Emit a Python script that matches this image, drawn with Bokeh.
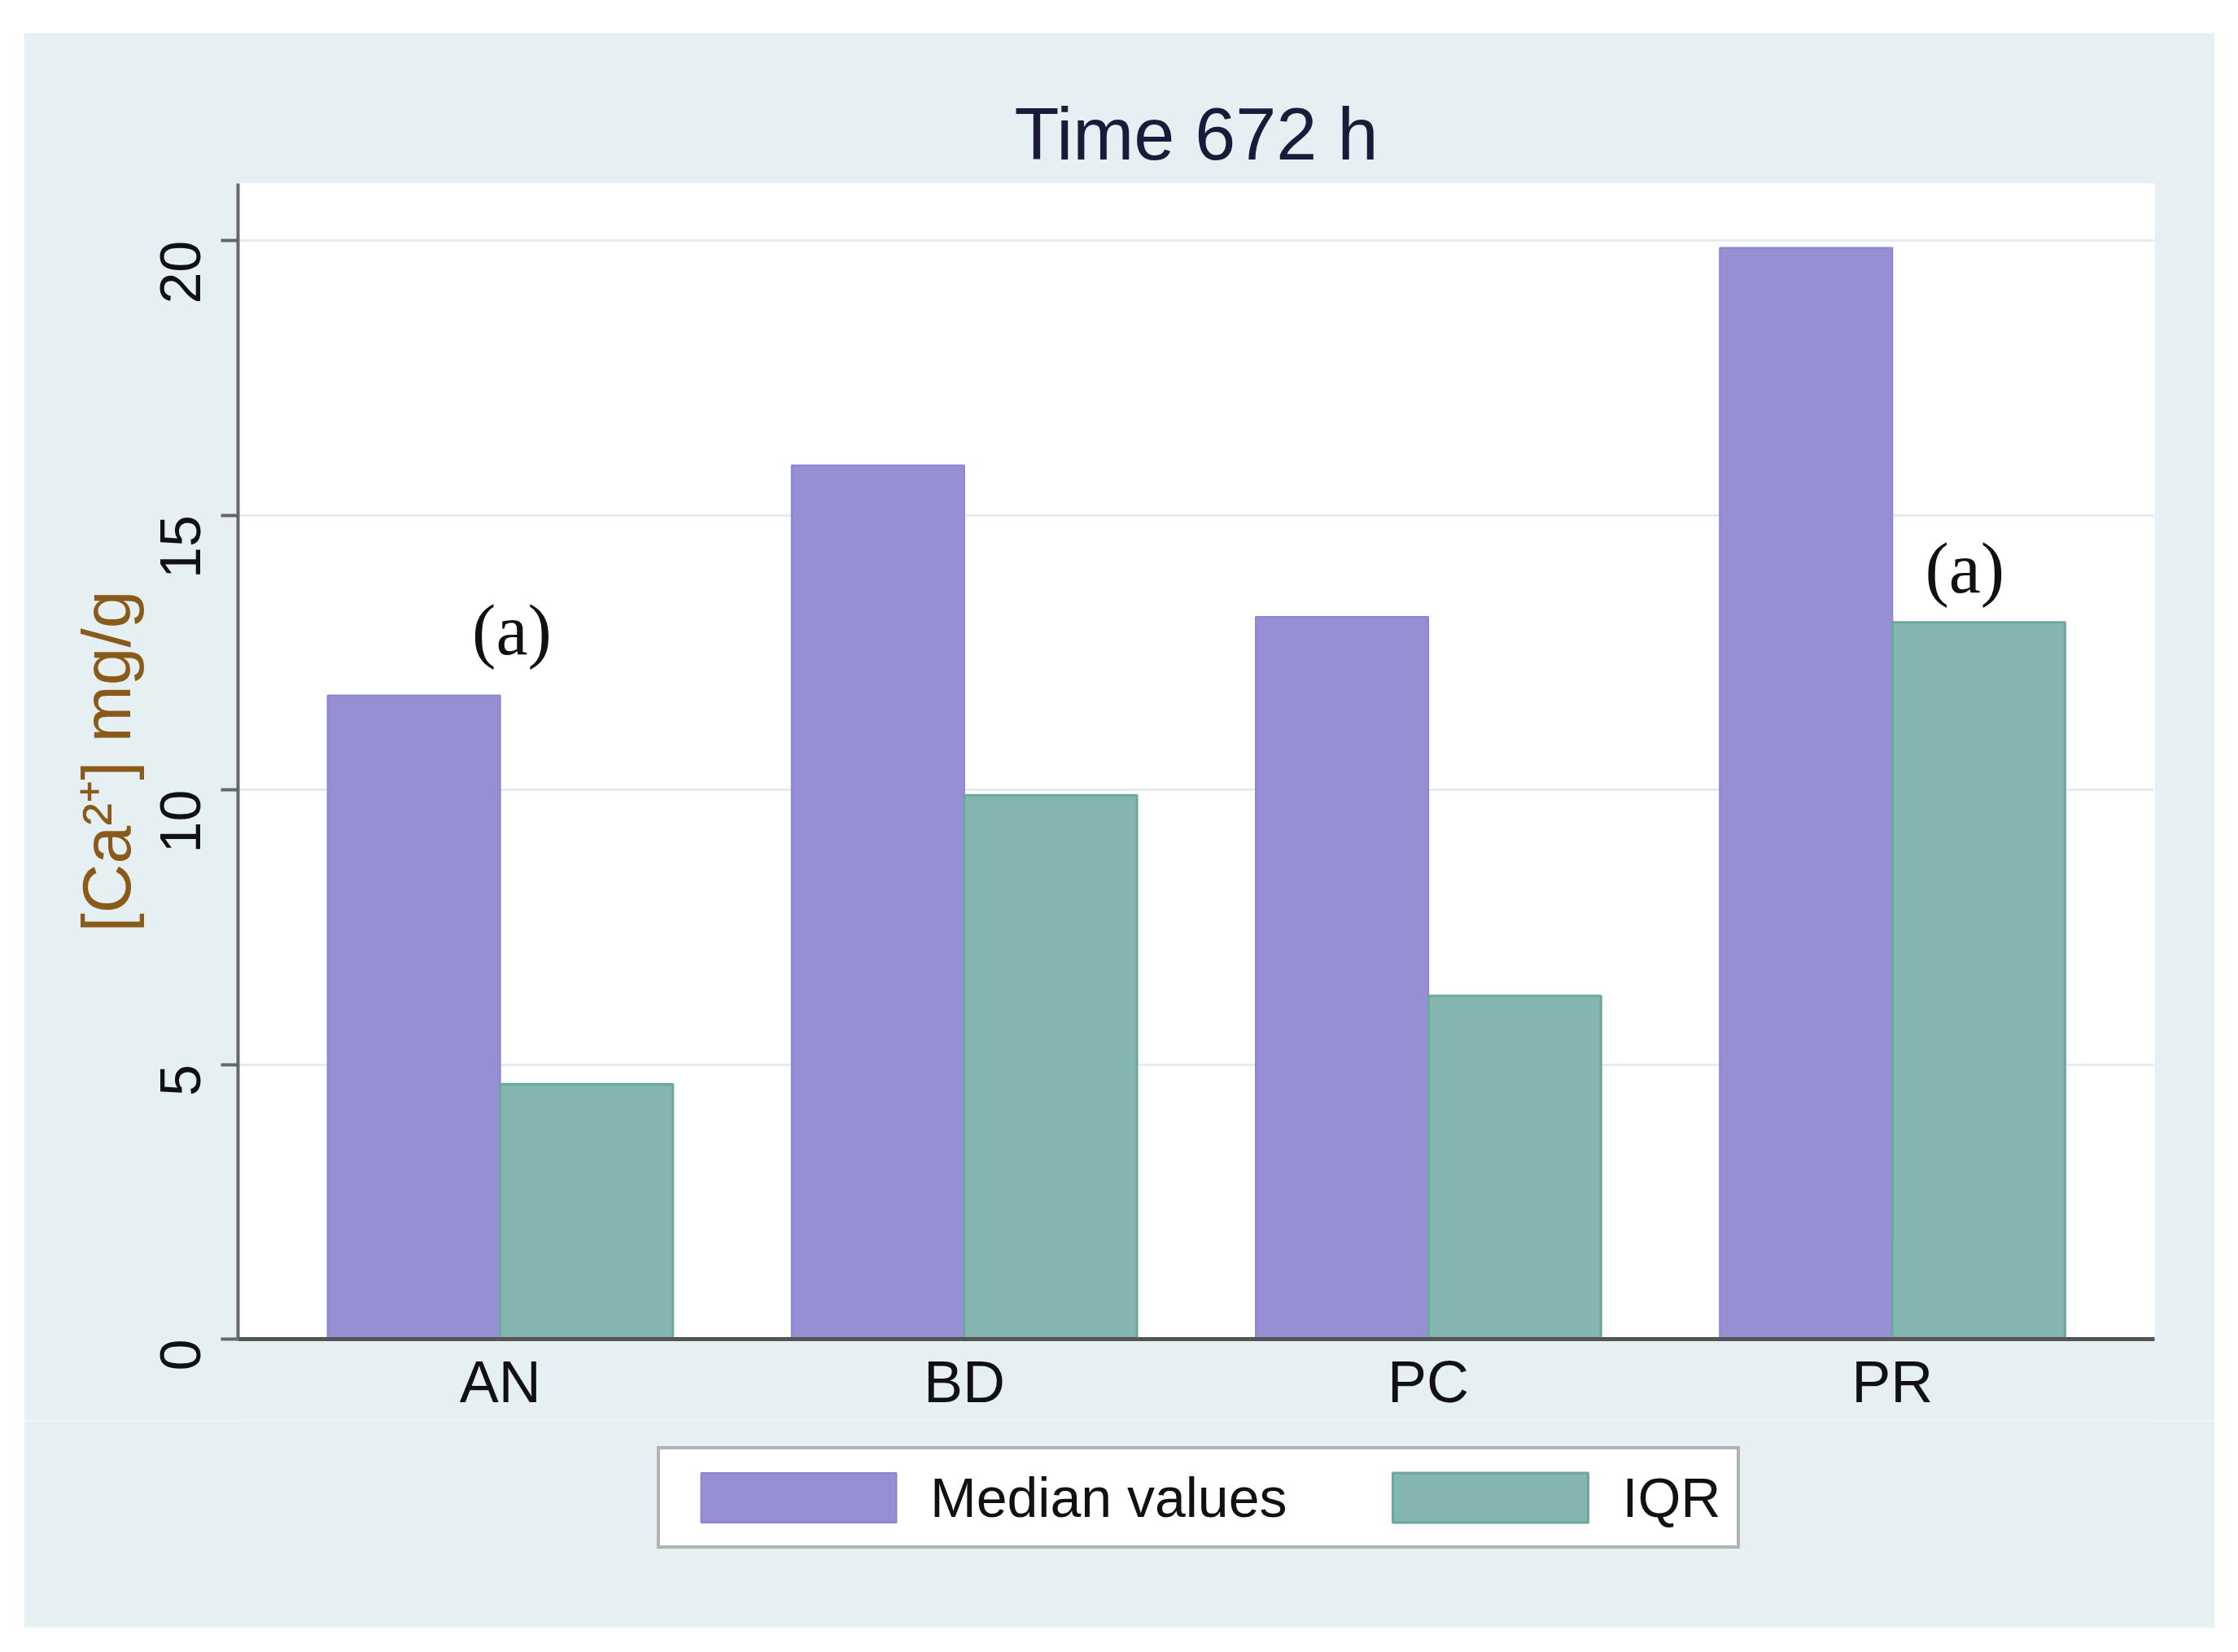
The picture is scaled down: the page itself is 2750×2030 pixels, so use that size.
from bokeh.plotting import figure
from bokeh.layouts import column
from bokeh.models import ColumnDataSource, FactorRange, FixedTicker, Legend, LegendItem, Range1d
from bokeh.transform import dodge
from bokeh.core.properties import value
from bokeh.embed import file_html
from bokeh.resources import INLINE
import math

# ---- data ----
categories = ["AN", "BD", "PC", "PR"]
median_values = [11.72, 15.91, 13.15, 19.87]
iqr_values = [4.64, 9.90, 6.25, 13.05]
y_ticks = [0, 5, 10, 15, 20]
title_text = "Time 672 h"
y_label = "[Ca²⁺] mg/g"
series_names = ["Median values", "IQR"]
ann_cats_left = ["AN"]
ann_y_left = [12.9]
ann_cats_right = ["PR"]
ann_y_right = [14.03]
ann_text = "(a)"

BG = "#e6f0f2"
PURPLE = "#978fd3"
TEAL = "#84b5b0"
PURPLE_LINE = "#8d85cf"
TEAL_LINE = "#6aa79f"
FONT = "Liberation Sans"
bw = 0.372

src = ColumnDataSource(dict(cat=categories, med=median_values, iqr=iqr_values))

# ---------------- main chart ----------------
p = figure(
    x_range=FactorRange(factors=categories, range_padding=0.0325),
    y_range=(0, 21.04),
    width=2692, height=1705,
    output_backend="svg", toolbar_location=None,
    min_border_left=263, min_border_right=74, min_border_top=185, min_border_bottom=100,
)
p.background_fill_color = "white"
p.border_fill_color = BG
p.outline_line_color = None

p.vbar(x=dodge("cat", -bw / 2, range=p.x_range), top="med", width=bw, source=src,
       fill_color=PURPLE, line_color=PURPLE_LINE, line_width=2)
p.vbar(x=dodge("cat", bw / 2, range=p.x_range), top="iqr", width=bw, source=src,
       fill_color=TEAL, line_color=TEAL_LINE, line_width=3)

# annotations
sa = ColumnDataSource(dict(cat=ann_cats_left, y=ann_y_left, t=[ann_text] * len(ann_cats_left)))
sb = ColumnDataSource(dict(cat=ann_cats_right, y=ann_y_right, t=[ann_text] * len(ann_cats_right)))
for s, off in ((sa, 0.025), (sb, 0.156)):
    p.text(x=dodge("cat", off, range=p.x_range), y="y", text="t", source=s,
           text_font=value("Liberation Serif"), text_font_size="88px",
           text_align="center", text_baseline="alphabetic", text_color="#111111")

# title
p.title.text = title_text
p.title.align = "center"
p.title.text_font = FONT
p.title.text_font_size = "90px"
p.title.text_font_style = "normal"
p.title.text_color = "#1a1a3a"
p.title.standoff = 21

# y axis
ya = p.yaxis[0]
ya.ticker = FixedTicker(ticks=y_ticks)
ya.axis_label = y_label
ya.axis_label_text_font = FONT
ya.axis_label_text_font_size = "84px"
ya.axis_label_text_font_style = "normal"
ya.axis_label_text_color = "#8a5a1a"
ya.axis_label_standoff = -8
ya.major_label_orientation = math.pi / 2
ya.major_label_text_font = FONT
ya.major_label_text_font_size = "70px"
ya.major_label_text_color = "#111111"
ya.major_label_standoff = 50
ya.axis_line_color = "#666666"
ya.axis_line_width = 4
ya.major_tick_line_color = "#666666"
ya.major_tick_line_width = 4
ya.major_tick_out = 21
ya.major_tick_in = 0
ya.minor_tick_line_color = None

# x axis
xa = p.xaxis[0]
xa.major_label_text_font = FONT
xa.major_label_text_font_size = "72px"
xa.major_label_text_color = "#111111"
xa.major_label_standoff = 12
xa.axis_line_color = "#555555"
xa.axis_line_width = 5
xa.major_tick_line_color = None
xa.major_tick_out = 0
xa.major_tick_in = 0

p.xgrid.grid_line_color = None
p.ygrid.ticker = FixedTicker(ticks=y_ticks)
p.ygrid.grid_line_color = "#e3edf0"
p.ygrid.grid_line_width = 3

# ---------------- legend strip ----------------
pl = figure(
    x_range=FactorRange(factors=categories, range_padding=0.0325),
    y_range=Range1d(0, 21.04),
    width=2692, height=255,
    output_backend="svg", toolbar_location=None,
    x_axis_location=None, y_axis_location=None,
    min_border_left=0, min_border_right=0, min_border_top=0, min_border_bottom=0,
)
pl.background_fill_color = BG
pl.border_fill_color = BG
pl.outline_line_color = None
pl.grid.grid_line_color = None
# legend proxies (same series, not drawn in the strip)
lr1 = pl.vbar(x=dodge("cat", -bw / 2, range=pl.x_range), top="med", width=bw, source=src,
              fill_color=PURPLE, line_color=PURPLE_LINE, line_width=2)
lr2 = pl.vbar(x=dodge("cat", bw / 2, range=pl.x_range), top="iqr", width=bw, source=src,
              fill_color=TEAL, line_color=TEAL_LINE, line_width=3)
lr1.visible = False
lr2.visible = False

legend = Legend(items=[LegendItem(label=series_names[0], renderers=[lr1]),
                       LegendItem(label=series_names[1], renderers=[lr2])],
                orientation="horizontal", location=(515, 97))
legend.label_text_font = FONT
legend.label_text_font_size = "68px"
legend.label_text_color = "#111111"
legend.glyph_width = 300
legend.glyph_height = 76
legend.label_standoff = 12
legend.spacing = 100
legend.padding = 20
legend.margin = 0
legend.border_line_color = "#666666"
legend.border_line_width = 4
legend.background_fill_color = "white"
legend.background_fill_alpha = 1.0
legend.inactive_fill_alpha = 0.0
pl.add_layout(legend, "center")

layout = column(p, pl, spacing=0, margin=(40, 0, 0, 29))

open("out.html", "w").write(file_html(layout, INLINE))
